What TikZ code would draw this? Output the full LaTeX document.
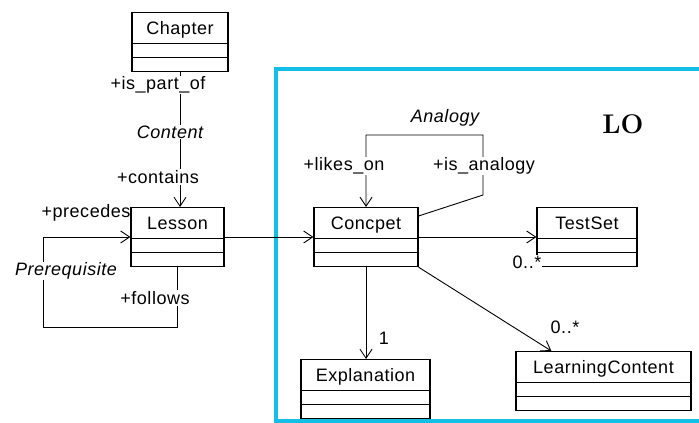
\documentclass[tikz,border=0pt]{standalone}
\usepackage{fontspec}
\setmainfont{Liberation Sans}[LetterSpace=3]
\newfontfamily\lofont{Latin Modern Roman}
\usetikzlibrary{arrows.meta}
\definecolor{loblue}{RGB}{20,190,230}
\begin{document}
\begin{tikzpicture}[x=1pt, y=-1pt, ->, >={Straight Barb[length=9pt,width=12pt]},
    line width=0.9pt,
    class/.style={draw, rectangle, anchor=north, line width=1.2pt,
        inner ysep=6pt, text height=16pt, text depth=31pt,
        font=\fontsize{18}{20}\selectfont,
        path picture={
            \draw[-, line width=1.2pt] ([yshift=-31pt]path picture bounding box.north west) -- ([yshift=-31pt]path picture bounding box.north east);
            \draw[-, line width=1.2pt] ([yshift=-45pt]path picture bounding box.north west) -- ([yshift=-45pt]path picture bounding box.north east);
        }},
    role/.style={fill=white, inner sep=1pt, font=\fontsize{18}{20}\selectfont},
    assoc/.style={role, font=\fontsize{18}{20}\selectfont\itshape}]
    \useasboundingbox (0,0) rectangle (699,423);
    % package frame
    \draw[-, loblue, line width=4pt] (705,69) -- (276,69) -- (276,421) -- (705,421);
    \node[font=\fontsize{27}{30}\selectfont\lofont\bfseries] (lo) at (623,124) {LO};

    \node[class, minimum width=96pt] (chapter) at (180,12) {Chapter};
    \node[class, minimum width=93pt] (lesson) at (177.5,207) {Lesson};
    \node[class, minimum width=104pt] (concept) at (366,207) {Concpet};
    \node[class, minimum width=100pt] (testset) at (587,207) {TestSet};
    \node[class, minimum width=129pt] (explanation) at (365.5,359) {Explanation};
    \node[class, minimum width=175pt] (lcontent) at (603.5,351) {LearningContent};

    % Content
    \draw (chapter.south) -- (chapter.south |- lesson.north);
    \node[role] (partof) at (158,85) {+is\_part\_of};
    \node[assoc] (content) at (170,132) {Content};
    \node[role] (contains) at (158,177) {+contains};

    % Prerequisite
    \draw (lesson.south) |- (43,327) |- ([yshift=-30pt]lesson.north west);
    \node[role, fill=none] (precedes) at (86,213) {+precedes};
    \node[assoc] (prereq) at (66,271) {Prerequisite};
    \node[role] (follows) at (155,298) {+follows};

    \draw ([yshift=-30pt]lesson.north east) -- ([yshift=-30pt]concept.north west);
    \draw ([yshift=-30pt]concept.north east) -- ([yshift=-30pt]testset.north west);
    \node[role] (mtest) at (527,262) {0..*};

    % Analogy
    \coordinate (anabend) at (483,195);
    \draw ([yshift=-9pt]concept.north east) -- (anabend) |- ([yshift=72pt]concept.north) -- (concept.north);
    \node[assoc, fill=none] (analogy) at (445,118) {Analogy};
    \node[role] (likes) at (344,166) {+likes\_on};
    \node[role] (isana) at (484,166) {+is\_analogy};

    \draw (concept.south) -- (concept.south |- explanation.north);
    \node[role] (mexpl) at (384,338) {1};
    \draw (concept.south east) -- ([xshift=36pt]lcontent.north west);
    \node[role] (mlc) at (565,327) {0..*};
\end{tikzpicture}
\end{document}
